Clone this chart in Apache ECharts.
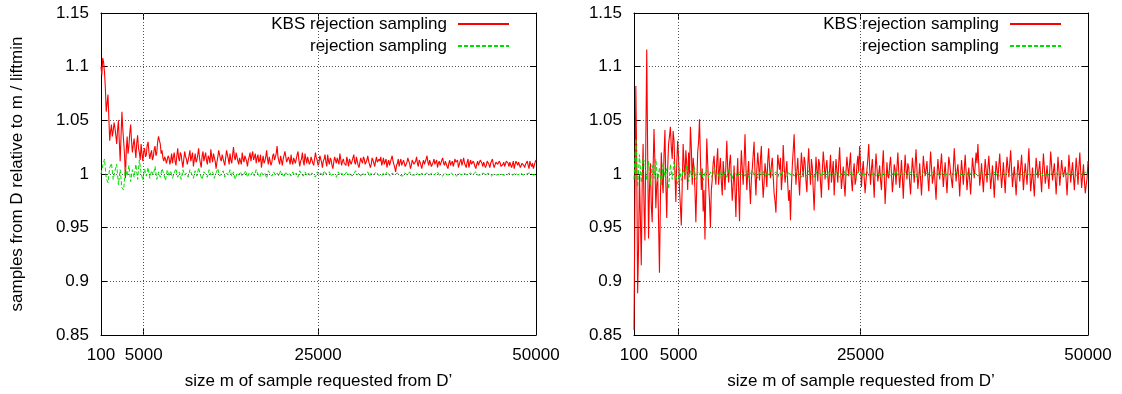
<!DOCTYPE html>
<html>
<head>
<meta charset="utf-8">
<script src="https://cdn.jsdelivr.net/npm/echarts@6/dist/echarts.min.js"></script>
<style>html,body{margin:0;padding:0;background:#fff}#c{width:1122px;height:394px}</style>
</head>
<body>
<div id="c"></div>
<script>
// sample sizes m requested from D' (step 100) for the KBS curves
const sizesFine = [
100,200,300,400,500,600,700,800,900,1000,1100,1200,1300,1400,1500,1600,1700,1800,1900,2000,
2100,2200,2300,2400,2500,2600,2700,2800,2900,3000,3100,3200,3300,3400,3500,3600,3700,3800,3900,4000,
4100,4200,4300,4400,4500,4600,4700,4800,4900,5000,5100,5200,5300,5400,5500,5600,5700,5800,5900,6000,
6100,6200,6300,6400,6500,6600,6700,6800,6900,7000,7100,7200,7300,7400,7500,7600,7700,7800,7900,8000,
8100,8200,8300,8400,8500,8600,8700,8800,8900,9000,9100,9200,9300,9400,9500,9600,9700,9800,9900,10000,
10100,10200,10300,10400,10500,10600,10700,10800,10900,11000,11100,11200,11300,11400,11500,11600,11700,11800,11900,12000,
12100,12200,12300,12400,12500,12600,12700,12800,12900,13000,13100,13200,13300,13400,13500,13600,13700,13800,13900,14000,
14100,14200,14300,14400,14500,14600,14700,14800,14900,15000,15100,15200,15300,15400,15500,15600,15700,15800,15900,16000,
16100,16200,16300,16400,16500,16600,16700,16800,16900,17000,17100,17200,17300,17400,17500,17600,17700,17800,17900,18000,
18100,18200,18300,18400,18500,18600,18700,18800,18900,19000,19100,19200,19300,19400,19500,19600,19700,19800,19900,20000,
20100,20200,20300,20400,20500,20600,20700,20800,20900,21000,21100,21200,21300,21400,21500,21600,21700,21800,21900,22000,
22100,22200,22300,22400,22500,22600,22700,22800,22900,23000,23100,23200,23300,23400,23500,23600,23700,23800,23900,24000,
24100,24200,24300,24400,24500,24600,24700,24800,24900,25000,25100,25200,25300,25400,25500,25600,25700,25800,25900,26000,
26100,26200,26300,26400,26500,26600,26700,26800,26900,27000,27100,27200,27300,27400,27500,27600,27700,27800,27900,28000,
28100,28200,28300,28400,28500,28600,28700,28800,28900,29000,29100,29200,29300,29400,29500,29600,29700,29800,29900,30000,
30100,30200,30300,30400,30500,30600,30700,30800,30900,31000,31100,31200,31300,31400,31500,31600,31700,31800,31900,32000,
32100,32200,32300,32400,32500,32600,32700,32800,32900,33000,33100,33200,33300,33400,33500,33600,33700,33800,33900,34000,
34100,34200,34300,34400,34500,34600,34700,34800,34900,35000,35100,35200,35300,35400,35500,35600,35700,35800,35900,36000,
36100,36200,36300,36400,36500,36600,36700,36800,36900,37000,37100,37200,37300,37400,37500,37600,37700,37800,37900,38000,
38100,38200,38300,38400,38500,38600,38700,38800,38900,39000,39100,39200,39300,39400,39500,39600,39700,39800,39900,40000,
40100,40200,40300,40400,40500,40600,40700,40800,40900,41000,41100,41200,41300,41400,41500,41600,41700,41800,41900,42000,
42100,42200,42300,42400,42500,42600,42700,42800,42900,43000,43100,43200,43300,43400,43500,43600,43700,43800,43900,44000,
44100,44200,44300,44400,44500,44600,44700,44800,44900,45000,45100,45200,45300,45400,45500,45600,45700,45800,45900,46000,
46100,46200,46300,46400,46500,46600,46700,46800,46900,47000,47100,47200,47300,47400,47500,47600,47700,47800,47900,48000,
48100,48200,48300,48400,48500,48600,48700,48800,48900,49000,49100,49200,49300,49400,49500,49600,49700,49800,49900,50000];

// sample sizes m requested from D' (step 200) for the rejection-sampling curves
const sizes = [
100,300,500,700,900,1100,1300,1500,1700,1900,
2100,2300,2500,2700,2900,3100,3300,3500,3700,3900,
4100,4300,4500,4700,4900,5100,5300,5500,5700,5900,
6100,6300,6500,6700,6900,7100,7300,7500,7700,7900,
8100,8300,8500,8700,8900,9100,9300,9500,9700,9900,
10100,10300,10500,10700,10900,11100,11300,11500,11700,11900,
12100,12300,12500,12700,12900,13100,13300,13500,13700,13900,
14100,14300,14500,14700,14900,15100,15300,15500,15700,15900,
16100,16300,16500,16700,16900,17100,17300,17500,17700,17900,
18100,18300,18500,18700,18900,19100,19300,19500,19700,19900,
20100,20300,20500,20700,20900,21100,21300,21500,21700,21900,
22100,22300,22500,22700,22900,23100,23300,23500,23700,23900,
24100,24300,24500,24700,24900,25100,25300,25500,25700,25900,
26100,26300,26500,26700,26900,27100,27300,27500,27700,27900,
28100,28300,28500,28700,28900,29100,29300,29500,29700,29900,
30100,30300,30500,30700,30900,31100,31300,31500,31700,31900,
32100,32300,32500,32700,32900,33100,33300,33500,33700,33900,
34100,34300,34500,34700,34900,35100,35300,35500,35700,35900,
36100,36300,36500,36700,36900,37100,37300,37500,37700,37900,
38100,38300,38500,38700,38900,39100,39300,39500,39700,39900,
40100,40300,40500,40700,40900,41100,41300,41500,41700,41900,
42100,42300,42500,42700,42900,43100,43300,43500,43700,43900,
44100,44300,44500,44700,44900,45100,45300,45500,45700,45900,
46100,46300,46500,46700,46900,47100,47300,47500,47700,47900,
48100,48300,48500,48700,48900,49100,49300,49500,49700,49900,
50000];

// left panel: KBS rejection sampling (on sizesFine)
const kbsLeft = [
1.100,1.092,1.108,1.104,1.095,1.080,1.058,1.066,1.074,1.052,1.031,1.040,1.046,1.035,1.040,1.048,1.043,1.036,1.028,1.041,
1.050,1.030,1.012,1.036,1.058,1.042,1.030,1.018,0.996,1.022,1.035,1.019,1.026,1.038,1.046,1.031,1.020,1.027,1.033,1.024,
1.015,1.029,1.036,1.024,1.020,1.013,1.028,1.019,1.012,1.021,1.024,1.016,1.018,1.027,1.030,1.020,1.014,1.019,1.022,1.013,
1.016,1.023,1.026,1.017,1.020,1.030,1.035,1.031,1.028,1.019,1.022,1.015,1.012,1.016,1.014,1.010,1.011,1.017,1.015,1.009,
1.013,1.019,1.010,1.016,1.020,1.012,1.008,1.017,1.024,1.015,1.012,1.020,1.018,1.011,1.006,1.014,1.021,1.016,1.014,1.009,
1.010,1.017,1.022,1.012,1.016,1.020,1.007,1.013,1.019,1.011,1.013,1.018,1.024,1.015,1.010,1.006,1.017,1.021,1.012,1.016,
1.020,1.013,1.009,1.017,1.015,1.010,1.023,1.016,1.011,1.019,1.018,1.012,1.005,1.011,1.016,1.022,1.021,1.014,1.012,1.018,
1.017,1.011,1.008,1.015,1.022,1.018,1.014,1.009,1.019,1.013,1.010,1.018,1.025,1.016,1.013,1.020,1.016,1.012,1.009,1.015,
1.015,1.009,1.020,1.014,1.011,1.017,1.018,1.012,1.007,1.013,1.016,1.020,1.012,1.017,1.021,1.013,1.014,1.019,1.010,1.015,
1.018,1.011,1.013,1.018,1.006,1.012,1.017,1.010,1.012,1.016,1.022,1.014,1.009,1.016,1.015,1.008,1.011,1.017,1.019,1.013,
1.014,1.019,1.026,1.016,1.012,1.009,1.017,1.013,1.008,1.014,1.015,1.021,1.020,1.011,1.010,1.016,1.013,1.009,1.018,1.012,
1.009,1.015,1.016,1.010,1.011,1.018,1.021,1.013,1.007,1.012,1.014,1.020,1.012,1.008,1.019,1.014,1.010,1.016,1.015,1.009,
1.011,1.016,1.017,1.010,1.008,1.014,1.020,1.015,1.013,1.008,1.010,1.017,1.016,1.011,1.006,1.012,1.014,1.018,1.011,1.007,
1.018,1.012,1.009,1.015,1.013,1.008,1.005,1.011,1.016,1.013,1.010,1.015,1.012,1.009,1.019,1.014,1.008,1.012,1.014,1.010,
1.011,1.008,1.016,1.012,1.007,1.014,1.013,1.009,1.010,1.015,1.018,1.011,1.009,1.016,1.012,1.008,1.006,1.011,1.015,1.012,
1.010,1.016,1.014,1.009,1.008,1.013,1.017,1.012,1.011,1.006,1.009,1.015,1.013,1.010,1.007,1.012,1.016,1.011,1.010,1.014,
1.012,1.016,1.008,1.011,1.015,1.009,1.010,1.014,1.006,1.010,1.013,1.008,1.009,1.014,1.017,1.012,1.011,1.006,1.002,1.008,
1.010,1.014,1.007,1.011,1.014,1.008,1.009,1.013,1.012,1.007,1.006,1.011,1.015,1.012,1.010,1.005,1.008,1.013,1.013,1.009,
1.009,1.012,1.016,1.010,1.007,1.013,1.011,1.008,1.005,1.010,1.013,1.009,1.009,1.014,1.017,1.011,1.008,1.013,1.012,1.007,
1.007,1.011,1.014,1.009,1.010,1.013,1.006,1.010,1.012,1.008,1.009,1.013,1.015,1.010,1.008,1.012,1.011,1.007,1.005,1.010,
1.013,1.008,1.009,1.012,1.007,1.010,1.014,1.011,1.010,1.013,1.006,1.009,1.012,1.014,1.008,1.011,1.015,1.010,1.009,1.006,
1.011,1.014,1.006,1.010,1.013,1.009,1.008,1.012,1.010,1.007,1.005,1.009,1.012,1.008,1.009,1.013,1.014,1.010,1.007,1.011,
1.010,1.006,1.008,1.012,1.013,1.009,1.006,1.010,1.011,1.014,1.009,1.006,1.007,1.011,1.012,1.009,1.008,1.012,1.010,1.007,
1.006,1.009,1.011,1.007,1.008,1.012,1.013,1.010,1.007,1.011,1.010,1.006,1.009,1.012,1.005,1.009,1.012,1.010,1.008,1.011,
1.010,1.006,1.007,1.010,1.011,1.008,1.006,1.009,1.009,1.012,1.008,1.005,1.012,1.009,1.007,1.010,1.005,1.008,1.011,1.013];

// left panel: rejection sampling (on sizes)
const rejLeft = [
1.000,1.008,1.014,0.996,0.992,1.006,1.010,0.995,1.003,1.009,
0.990,1.004,0.987,0.985,1.006,0.998,1.008,0.993,1.004,0.997,
1.009,0.995,1.013,1.001,0.994,1.005,0.998,1.006,0.996,1.003,
0.999,1.007,0.995,1.002,0.997,1.005,1.000,0.994,1.004,0.998,
1.003,0.996,1.001,1.005,0.997,1.002,0.995,1.004,0.999,1.001,
0.997,1.004,1.000,0.996,1.003,0.998,1.006,0.999,0.995,1.002,
1.000,0.997,1.004,0.999,1.002,0.996,1.001,1.005,0.998,1.000,
1.003,0.997,1.001,0.999,1.004,0.998,1.002,0.995,1.001,0.999,
1.002,0.998,1.000,1.003,0.997,1.001,0.999,1.002,0.998,1.004,
1.000,0.997,1.002,0.999,1.001,0.996,1.003,1.000,0.998,1.002,
0.999,1.001,0.998,1.003,1.000,0.997,1.002,0.999,1.001,0.998,
1.002,0.999,1.001,0.997,1.003,1.000,0.998,1.002,0.999,1.001,
0.998,1.001,1.000,0.997,1.002,0.999,1.001,0.998,1.003,1.000,
0.999,1.002,0.998,1.000,1.001,0.997,1.002,0.999,1.001,0.998,
1.000,1.002,0.999,1.001,0.998,1.000,1.003,0.999,1.001,0.998,
1.001,0.999,1.000,1.002,0.998,1.001,0.999,1.000,1.002,0.999,
1.000,0.998,1.001,0.999,1.002,1.000,0.998,1.001,0.999,1.000,
1.001,0.999,1.000,0.998,1.001,1.000,0.999,1.002,0.999,1.000,
0.999,1.001,1.000,0.998,1.001,0.999,1.000,1.001,0.999,1.000,
1.001,0.999,1.000,1.002,0.999,1.000,0.998,1.001,1.000,0.999,
1.000,1.001,0.999,1.000,0.998,1.001,1.000,0.999,1.001,1.000,
0.999,1.000,1.001,0.999,1.000,1.002,0.999,1.000,0.999,1.001,
1.000,0.999,1.001,1.000,0.998,1.000,1.001,0.999,1.000,1.000,
1.001,0.999,1.000,0.999,1.001,1.000,0.999,1.000,1.001,0.999,
1.000,1.001,0.999,1.000,1.000,0.999,1.001,1.000,0.999,1.000,
1.000];

// right panel: KBS rejection sampling (on sizesFine)
const kbsRight = [
0.855,0.970,1.082,1.010,0.889,0.930,1.000,0.960,0.915,0.990,1.028,0.970,0.938,1.030,1.116,1.020,0.940,0.985,1.010,0.970,
0.955,1.005,1.042,1.010,0.968,0.990,1.000,0.955,0.908,0.975,1.020,0.995,0.982,1.018,1.041,0.990,0.959,1.005,1.028,1.035,
1.044,1.025,1.014,1.040,1.031,1.000,0.974,1.010,1.031,1.015,0.986,0.970,0.952,0.990,1.028,1.010,0.995,1.022,1.009,0.985,
1.020,1.000,1.044,1.025,0.990,1.015,1.005,0.985,0.955,0.990,1.020,1.030,1.051,1.015,0.985,1.005,0.965,0.985,0.939,0.990,
1.033,1.010,0.990,0.975,0.950,0.985,0.995,1.010,1.017,1.000,0.990,1.012,1.024,0.990,1.005,1.015,0.993,0.980,1.012,1.000,
0.985,1.008,1.031,1.005,0.992,1.010,1.018,0.995,0.975,0.990,1.008,0.985,0.960,0.995,1.015,0.985,0.956,0.998,1.022,1.005,
0.990,1.010,1.037,1.008,0.985,1.000,1.012,0.990,0.972,0.995,1.005,1.018,1.030,1.000,0.980,1.004,1.020,1.008,0.994,1.014,
1.026,0.995,0.978,0.992,1.010,1.002,0.988,1.012,1.024,1.006,0.996,1.008,1.015,0.998,0.982,0.975,0.964,0.992,1.018,1.010,
1.004,1.015,0.985,0.998,1.027,1.008,0.992,1.002,1.012,0.990,0.975,0.985,0.957,0.988,1.008,1.022,1.037,1.010,0.990,1.003,
1.015,0.996,0.980,1.002,1.020,1.008,0.997,1.016,1.011,0.994,0.983,1.008,1.024,1.003,0.990,1.014,1.006,0.985,0.966,0.992,
1.016,1.004,0.993,1.014,1.009,0.992,0.978,1.004,1.021,1.010,0.995,1.006,1.013,0.998,0.985,1.004,1.018,0.992,1.002,1.012,
0.980,0.998,1.014,1.003,0.992,1.010,1.025,1.004,0.986,0.996,1.007,0.990,0.979,1.002,1.016,1.006,0.998,1.010,1.020,0.994,
0.984,1.002,1.010,0.990,0.995,1.008,1.017,1.002,1.026,1.010,0.988,1.003,1.012,0.996,0.982,0.994,1.004,1.014,1.028,1.006,
0.990,1.005,1.014,0.996,0.978,1.002,1.019,1.006,0.993,1.000,1.008,0.994,0.985,1.006,1.022,1.000,0.972,0.990,1.011,0.998,
0.996,1.008,1.016,1.000,0.983,0.994,1.009,1.004,0.990,1.006,1.020,1.002,0.987,0.999,1.013,0.996,0.977,1.000,1.018,1.004,
0.995,1.010,1.006,0.992,0.981,1.000,1.015,1.004,0.992,1.008,1.023,1.004,0.986,0.996,1.010,0.995,0.980,0.998,1.017,1.006,
0.998,1.004,1.012,0.996,0.984,1.004,1.021,1.006,0.991,0.998,1.007,0.990,0.976,0.998,1.014,1.004,0.995,1.008,1.019,1.002,
0.988,1.000,1.011,0.996,0.982,1.000,1.016,1.010,1.001,0.994,0.987,1.006,1.024,1.008,0.993,1.002,1.009,0.996,0.979,0.998,
1.013,1.002,0.990,1.004,1.018,1.002,0.985,0.996,1.006,0.994,0.981,0.998,1.015,1.006,0.996,1.008,1.020,1.010,1.028,1.008,
0.989,0.998,1.010,0.996,0.983,1.000,1.014,1.004,0.992,1.006,1.017,1.002,0.986,0.996,1.008,0.994,0.978,0.996,1.012,1.004,
0.994,1.008,1.019,1.002,0.987,0.998,1.011,0.996,0.982,1.002,1.016,1.006,0.997,1.010,1.022,1.004,0.988,0.998,1.007,0.994,
0.980,0.996,1.013,1.004,0.993,1.006,1.018,1.002,0.985,0.998,1.010,1.000,0.990,1.008,1.024,1.004,0.984,0.994,1.006,0.992,
0.979,0.998,1.015,1.006,0.996,1.004,1.012,0.996,0.983,1.002,1.019,1.006,0.991,0.998,1.008,0.996,0.986,1.004,1.021,1.008,
0.994,1.002,1.010,0.996,0.981,0.998,1.016,1.004,0.989,1.000,1.013,1.004,0.997,1.002,1.007,0.994,0.980,0.998,1.018,1.006,
0.992,1.002,1.011,0.998,0.985,1.000,1.015,1.004,0.990,1.006,1.020,1.002,0.987,0.998,1.009,0.994,0.982,0.990,0.996,1.012];

// right panel: rejection sampling (on sizes)
const rejRight = [
0.995,1.033,0.988,1.018,0.992,1.015,1.010,0.994,1.012,0.990,
1.008,0.996,1.014,0.993,1.006,0.989,1.010,0.997,1.005,0.986,
1.009,0.995,1.012,0.998,0.991,1.006,0.994,1.004,0.999,1.008,
0.993,1.003,0.997,1.007,0.995,1.002,0.999,1.005,0.994,1.001,
1.004,0.997,1.002,0.996,1.006,0.999,1.001,0.995,1.003,0.998,
1.002,0.997,1.004,0.999,0.996,1.003,1.000,0.997,1.002,0.999,
1.001,0.998,1.003,0.997,1.000,1.004,0.998,1.001,0.996,1.002,
0.999,1.003,0.997,1.001,0.999,1.004,0.998,1.000,1.002,0.997,
1.001,0.998,1.003,1.000,0.997,1.002,0.999,1.001,0.998,1.003,
0.999,1.001,0.997,1.002,1.000,0.998,1.003,0.999,1.001,0.997,
1.002,0.999,1.001,0.998,1.003,1.000,0.997,1.002,0.999,1.001,
0.998,1.002,1.000,0.997,1.001,0.999,1.003,0.998,1.000,1.002,
0.999,1.001,0.997,1.002,1.000,0.998,1.001,0.999,1.003,0.998,
1.001,0.999,1.002,0.998,1.000,1.001,0.997,1.002,0.999,1.000,
1.002,0.998,1.001,0.999,1.003,0.998,1.000,1.001,0.999,1.002,
0.998,1.000,1.002,0.999,1.001,0.997,1.001,1.000,0.998,1.002,
1.000,0.999,1.001,0.998,1.002,1.000,0.999,1.001,0.998,1.000,
1.002,0.999,1.000,1.001,0.998,1.001,0.999,1.002,1.000,0.998,
1.001,0.999,1.000,1.002,0.998,1.001,1.000,0.999,1.001,0.998,
1.000,1.002,0.999,1.000,0.998,1.001,1.000,0.999,1.002,0.999,
1.001,0.998,1.000,1.001,0.999,1.002,1.000,0.998,1.001,0.999,
1.000,1.001,0.998,1.000,1.002,0.999,1.001,1.000,0.998,1.001,
0.999,1.000,1.002,0.999,1.001,0.998,1.000,1.001,0.999,1.000,
1.001,0.999,1.000,1.002,0.998,1.001,0.999,1.000,1.001,0.999,
1.000,1.001,0.999,1.000,0.998,1.001,1.000,0.999,1.002,1.000,
0.999];

const xTicks = [100, 5000, 25000, 50000];
const xGridValues = [5000, 25000];
const seriesNames = ['KBS rejection sampling', 'rejection sampling'];
const xName = 'size m of sample requested from D\u2019';
const yName = 'samples from D relative to m / liftmin';

const FONT = '"Liberation Sans", Arial, Helvetica, sans-serif';
const FS = 17;
const black = '#000';
const gridDot = { color: '#555', width: 1, type: [1, 2] };

function xAxes(gi) {
  const base = {
    gridIndex: gi, type: 'value', min: 100, max: 50000,
    axisLine: { show: true, onZero: false, lineStyle: { color: black, width: 1 } },
    axisTick: { show: true, inside: true, length: 6, customValues: xTicks, lineStyle: { color: black } },
    splitLine: { show: false }
  };
  return [
    Object.assign({}, base, {
      position: 'bottom',
      axisLabel: { show: true, customValues: xTicks, color: black, fontSize: FS, fontFamily: FONT, margin: 12,
        formatter: v => String(v) },
      name: xName, nameLocation: 'middle', nameGap: 38, nameMoveOverlap: false,
      nameTextStyle: { color: black, fontSize: FS, fontFamily: FONT }
    }),
    Object.assign({}, base, { position: 'top', axisLabel: { show: false } })
  ];
}
function yAxes(gi, withName) {
  const base = {
    gridIndex: gi, type: 'value', min: 0.85, max: 1.15, interval: 0.05,
    axisLine: { show: true, onZero: false, lineStyle: { color: black, width: 1 } },
    axisTick: { show: true, inside: true, length: 6, lineStyle: { color: black } }
  };
  const left = Object.assign({}, base, {
    position: 'left',
    axisLabel: { show: true, color: black, fontSize: FS, fontFamily: FONT, margin: 12,
      formatter: v => String(parseFloat(v.toFixed(2))) },
    splitLine: { show: true, lineStyle: gridDot }
  });
  if (withName) {
    left.name = yName; left.nameLocation = 'middle'; left.nameGap = 75; left.nameMoveOverlap = false;
    left.nameTextStyle = { color: black, fontSize: FS, fontFamily: FONT };
  }
  return [left, Object.assign({}, base, { position: 'right', axisLabel: { show: false }, splitLine: { show: false } })];
}

function panelSeries(xi, yi, kbs, rej) {
  return [
    { type: 'line', xAxisIndex: xi, yAxisIndex: yi, data: [], z: 1, silent: true,
      markLine: { silent: true, symbol: ['none', 'none'], label: { show: false }, animation: false,
        lineStyle: gridDot, emphasis: { disabled: true },
        data: xGridValues.map(v => ({ xAxis: v })) } },
    { name: seriesNames[0], type: 'line', xAxisIndex: xi, yAxisIndex: yi, z: 2,
      data: sizesFine.map((x, i) => [x, kbs[i]]), symbol: 'none', showSymbol: false,
      lineStyle: { color: '#ff0000', width: 1.1 }, itemStyle: { color: '#ff0000' } },
    { name: seriesNames[1], type: 'line', xAxisIndex: xi, yAxisIndex: yi, z: 3,
      data: sizes.map((x, i) => [x, rej[i]]), symbol: 'none', showSymbol: false,
      lineStyle: { color: '#00e000', width: 1, type: [4, 2] }, itemStyle: { color: '#00e000' } }
  ];
}

function legendAt(right) {
  return {
    data: seriesNames, orient: 'vertical', align: 'right', right: right, top: 8,
    itemWidth: 51, itemHeight: 10, itemGap: 0, selectedMode: false,
    itemStyle: { opacity: 0 },
    textStyle: { color: black, fontSize: FS, fontFamily: FONT, lineHeight: 22, padding: [0, 6, 0, 0] }
  };
}

const chart = echarts.init(document.getElementById('c'), null, { renderer: 'canvas' });
chart.setOption({
  animation: false,
  backgroundColor: '#fff',
  textStyle: { fontFamily: FONT },
  grid: [
    { left: 101, right: 586, top: 13, bottom: 59, containLabel: false, outerBoundsMode: 'none' },
    { left: 634, right: 34, top: 13, bottom: 59, containLabel: false, outerBoundsMode: 'none' }
  ],
  legend: [legendAt(607), legendAt(55)],
  xAxis: xAxes(0).concat(xAxes(1)),
  yAxis: yAxes(0, true).concat(yAxes(1, false)),
  series: panelSeries(0, 0, kbsLeft, rejLeft).concat(panelSeries(2, 2, kbsRight, rejRight))
});
</script>
</body>
</html>
